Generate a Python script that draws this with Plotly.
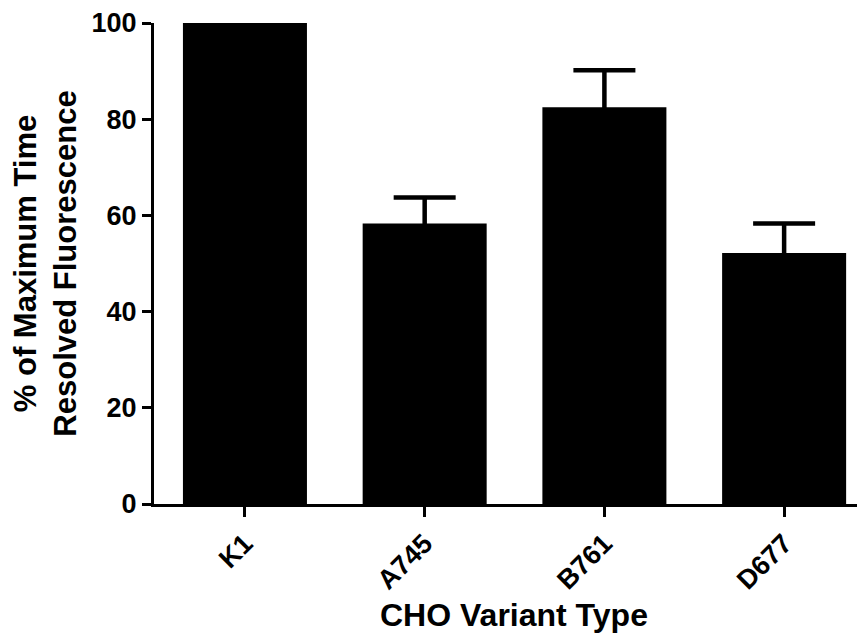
import plotly.graph_objects as go

categories = ["K1", "A745", "B761", "D677"]
values = [100.0, 58.3, 82.5, 52.2]
err_sem = [0.0, 5.4, 7.7, 6.1]
y_ticks = [0, 20, 40, 60, 80, 100]

FONT = "Liberation Sans, Arial, sans-serif"

fig = go.Figure()
fig.add_trace(go.Bar(
    x=categories,
    y=values,
    width=0.69,
    marker=dict(color="black", line=dict(width=0)),
    error_y=dict(
        type="data",
        array=err_sem,
        color="black",
        thickness=4.5,
        width=31,
    ),
))

# the page body has an 8px margin, so the figure is sized to fit the window
fig.update_layout(
    width=857,
    height=627,
    paper_bgcolor="white",
    plot_bgcolor="white",
    showlegend=False,
    margin=dict(l=146, r=0, t=15, b=131),
    font=dict(family=FONT, color="black", size=27, weight="bold"),
    annotations=[dict(
        text="CHO Variant Type",
        xref="paper", yref="paper",
        x=0.506, y=-0.231,
        xanchor="center", yanchor="middle",
        showarrow=False,
        font=dict(family=FONT, size=32, weight="bold", color="black"),
    )],
)

fig.update_xaxes(
    range=[-0.506, 3.45],
    automargin=False,
    showline=True,
    linecolor="black",
    linewidth=3,
    ticks="outside",
    ticklen=10,
    tickwidth=3,
    tickcolor="black",
    tickangle=-45,
    tickfont=dict(family=FONT, size=27, weight="bold"),
    showgrid=False,
    zeroline=False,
)

fig.update_yaxes(
    range=[0, 100],
    automargin=False,
    tickvals=y_ticks,
    showline=True,
    linecolor="black",
    linewidth=3,
    ticks="outside",
    ticklen=9,
    tickwidth=3,
    tickcolor="black",
    tickfont=dict(family=FONT, size=27, weight="bold"),
    showgrid=False,
    zeroline=False,
    title=dict(text="% of Maximum Time<br>Resolved Fluorescence",
               font=dict(family=FONT, size=31, weight="bold")),
)

fig.write_html("out.html")
